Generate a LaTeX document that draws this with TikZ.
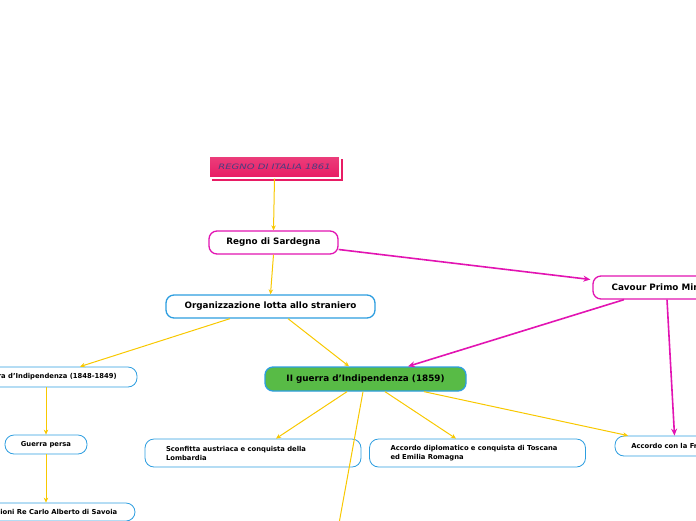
\documentclass[tikz,border=0pt]{standalone}
\usepackage{fontspec}
\setmainfont{DejaVu Sans}
\usepackage{xcolor}
\usetikzlibrary{arrows.meta, positioning}

\definecolor{mapmagenta}{RGB}{226,20,178}
\definecolor{mapblue}{RGB}{45,158,224}
\definecolor{mapyellow}{RGB}{248,200,0}
\definecolor{mapgreen}{RGB}{88,187,70}
\definecolor{mappink}{RGB}{232,28,100}
\definecolor{maptitle}{RGB}{72,62,128}

\begin{document}
\begin{tikzpicture}[
    x=1pt, y=-1pt,
    topic/.style={rectangle, rounded corners=8pt, draw=mapblue, fill=white, line width=1.3pt, inner sep=0pt, align=center, font=\fontsize{8.8}{10}\selectfont\bfseries},
    mainbox/.style={topic, draw=mapmagenta},
    subbox/.style={rectangle, rounded corners=9pt, draw=mapblue, fill=white, line width=0.8pt, inner sep=0pt, align=center, font=\fontsize{6.8}{9}\selectfont\bfseries},
    textbox/.style={subbox, align=left, text width=174pt, inner xsep=21pt, minimum height=28pt},
    ylink/.style={-{Stealth[length=5pt, width=4.5pt]}, draw=mapyellow, line width=1pt},
    mlink/.style={-{Stealth[length=7pt, width=6pt]}, draw=mapmagenta, line width=1.6pt}
]
\useasboundingbox (0,0) rectangle (696,520);
\clip (0,0) rectangle (696,520);

% Title
\fill[mappink] (212,159) rectangle (343,181);
\node[rectangle, draw=white, line width=1.2pt, top color=mappink!85!white, bottom color=mappink, minimum width=131pt, minimum height=22pt, inner sep=0pt] (italia) at (274.5,167) {\color{maptitle}\fontsize{7.4}{9}\selectfont\itshape\scalebox{1.35}[1]{REGNO DI ITALIA 1861}};

% Main boxes
\node[mainbox, minimum width=129pt, minimum height=23pt] (sardegna) at (273.5,242.5) {Regno di Sardegna};
\node[topic, minimum width=209pt, minimum height=23pt] (orga) at (270.5,306.5) {Organizzazione lotta allo straniero};
\node[mainbox, minimum width=148pt, minimum height=23pt] (cavour) at (667,287.5) {Cavour Primo Ministro};
\node[topic, fill=mapgreen, minimum width=201pt, minimum height=24pt] (guerra2) at (365.5,379) {II guerra d'Indipendenza (1859)};
\node[subbox, minimum width=182pt, minimum height=20pt] (guerra1) at (46,377) {I guerra d'Indipendenza (1848-1849)};

% Sub boxes
\node[subbox, minimum width=82pt, minimum height=19pt] (persa) at (46,444.5) {Guerra persa};
\node[subbox, minimum width=178pt, minimum height=18pt] (dimissioni) at (46,512) {Dimissioni Re Carlo Alberto di Savoia};
\node[textbox] (sconfitta) at (253,453) {Sconfitta austriaca e conquista della\\Lombardia};
\node[textbox] (toscana) at (477.5,453) {Accordo diplomatico e conquista di Toscana\\ed Emilia Romagna};
\node[subbox, minimum width=119pt, minimum height=20pt] (francia) at (674.5,446) {Accordo con la Francia};
\coordinate (terza) at (336,540);

% Arrows
\draw[ylink] (italia.south) -- (sardegna.north);
\draw[ylink] (sardegna.south) -- (orga.north);
\draw[ylink] ([xshift=-40.5pt]orga.south) -- ([xshift=34pt]guerra1.north);
\draw[ylink] ([xshift=17.5pt]orga.south) -- ([xshift=-16.5pt]guerra2.north);
\draw[ylink] (guerra1.south) -- (persa.north);
\draw[ylink] (persa.south) -- (dimissioni.north);
\draw[ylink] ([xshift=-18.5pt]guerra2.south) -- ([xshift=23pt]sconfitta.north);
\draw[ylink] ([xshift=19.5pt]guerra2.south) -- ([xshift=-21.5pt]toscana.north);
\draw[ylink] ([xshift=58.5pt]guerra2.south) -- ([xshift=-46.5pt]francia.north);
\draw[draw=mapyellow, line width=1pt] ([xshift=-2.5pt]guerra2.south) -- (terza);

\draw[mlink] ([yshift=-7pt]sardegna.east) -- ([yshift=8pt,xshift=-2pt]cavour.west);
\draw[mlink] ([xshift=-43pt]cavour.south) -- ([xshift=42.5pt]guerra2.north);
\draw[mlink] (cavour.south) -- (francia.north);

\end{tikzpicture}
\end{document}
